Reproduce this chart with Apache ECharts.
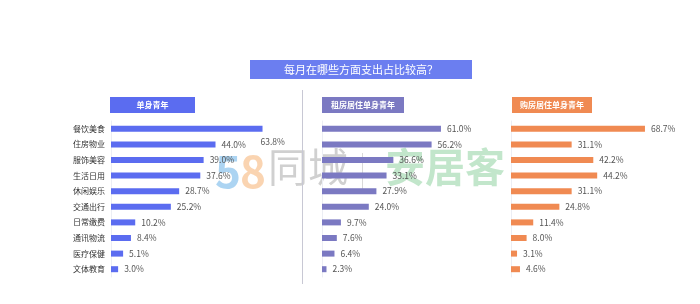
<!DOCTYPE html>
<html>
<head>
<meta charset="utf-8">
<script src="https://cdn.jsdelivr.net/npm/echarts@6/dist/echarts.min.js"></script>
<style>
  html, body { margin: 0; padding: 0; background: #fff; }
  #main { width: 700px; height: 304px; }
</style>
</head>
<body>
<div id="main"></div>
<script>
// categories, top to bottom
var categories = ['餐饮美食', '住房物业', '服饰美容', '生活日用', '休闲娱乐', '交通出行', '日常缴费', '通讯物流', '医疗保健', '文体教育'];
var singleYouth = [63.8, 44.0, 39.0, 37.6, 28.7, 25.2, 10.2, 8.4, 5.1, 3.0];
var rentYouth = [61.0, 56.2, 36.6, 33.1, 27.9, 24.0, 9.7, 7.6, 6.4, 2.3];
var ownYouth = [68.7, 31.1, 42.2, 44.2, 31.1, 24.8, 11.4, 8.0, 3.1, 4.6];
var panelTitles = ['单身青年', '租房居住单身青年', '购房居住单身青年'];
var colors = ['#5b6cf0', '#7b79c2', '#f08a52'];
var font = '"Noto Sans CJK SC", "Noto Sans", sans-serif';

var chart = echarts.init(document.getElementById('main'));

var grids = [
    {left: 111, top: 121, width: 190, height: 156},
    {left: 322, top: 121, width: 156, height: 156},
    {left: 511, top: 121, width: 156, height: 156}
];
var dataSets = [singleYouth, rentYouth, ownYouth];

var xAxes = [], yAxes = [], series = [];
for (var i = 0; i < 3; i++) {
    xAxes.push({
        gridIndex: i, type: 'value', min: 0, max: 80, show: false
    });
    yAxes.push({
        gridIndex: i, type: 'category', inverse: true, data: categories,
        axisLine: {show: true, lineStyle: {color: '#eceef4', width: 1}},
        axisTick: {show: false},
        axisLabel: {show: i === 0, color: '#333', fontSize: 8, margin: 6, fontFamily: font}
    });
    var d = dataSets[i].map(function (v, k) {
        var item = {value: v};
        // first bar label in the left panel sits below-right of the bar end
        if (i === 0 && k === 0) {
            item.label = {offset: [-8, 13]};
        }
        return item;
    });
    series.push({
        type: 'bar', xAxisIndex: i, yAxisIndex: i, data: d,
        barWidth: 6, itemStyle: {color: colors[i]},
        silent: true,
        label: {
            show: true, position: 'right', distance: 6,
            color: '#555', fontSize: 8.5, fontFamily: font,
            formatter: function (p) { return p.value.toFixed(1) + '%'; }
        }
    });
}

var headerBoxes = [
    {x: 110, w: 85},
    {x: 322, w: 82},
    {x: 512, w: 80}
];
var graphics = [
    // watermark
    {type: 'text', left: 215, top: 149, z: 0, silent: true,
        style: {text: '5', font: 'bold 44px ' + font, fill: 'rgba(90,170,230,0.5)'}},
    {type: 'text', left: 240, top: 149, z: 0, silent: true,
        style: {text: '8', font: 'bold 44px ' + font, fill: 'rgba(245,170,100,0.5)'}},
    {type: 'text', left: 268, top: 147, z: 0, silent: true,
        style: {text: '同城', font: '40px ' + font, fill: 'rgba(150,150,150,0.45)'}},
    {type: 'rect', shape: {x: 362, y: 153, width: 1, height: 36}, z: 0, silent: true,
        style: {fill: 'rgba(160,160,160,0.4)'}},
    {type: 'text', left: 385, top: 147, z: 0, silent: true,
        style: {text: '安居客', font: 'bold 40px ' + font, fill: 'rgba(120,200,140,0.45)'}},
    // separator
    {type: 'rect', shape: {x: 302, y: 90, width: 1, height: 194}, silent: true,
        style: {fill: '#c8c8d4'}},
    // main title
    {type: 'rect', shape: {x: 250, y: 60, width: 222, height: 19}, silent: true,
        style: {fill: '#6b7ef0'}},
    {type: 'text', x: 361, y: 69.5, silent: true,
        style: {text: '每月在哪些方面支出占比较高？', fill: '#fff', font: '11px ' + font,
            textAlign: 'center', textVerticalAlign: 'middle'}}
];
for (var j = 0; j < 3; j++) {
    graphics.push({type: 'rect', shape: {x: headerBoxes[j].x, y: 97, width: headerBoxes[j].w, height: 16},
        silent: true, style: {fill: colors[j]}});
    graphics.push({type: 'text', x: headerBoxes[j].x + headerBoxes[j].w / 2, y: 105, silent: true,
        style: {text: panelTitles[j], fill: '#fff', font: 'bold 8px ' + font,
            textAlign: 'center', textVerticalAlign: 'middle'}});
}

chart.setOption({
    backgroundColor: '#fff',
    animation: false,
    grid: grids,
    xAxis: xAxes,
    yAxis: yAxes,
    series: series,
    graphic: graphics
});
</script>
</body>
</html>
